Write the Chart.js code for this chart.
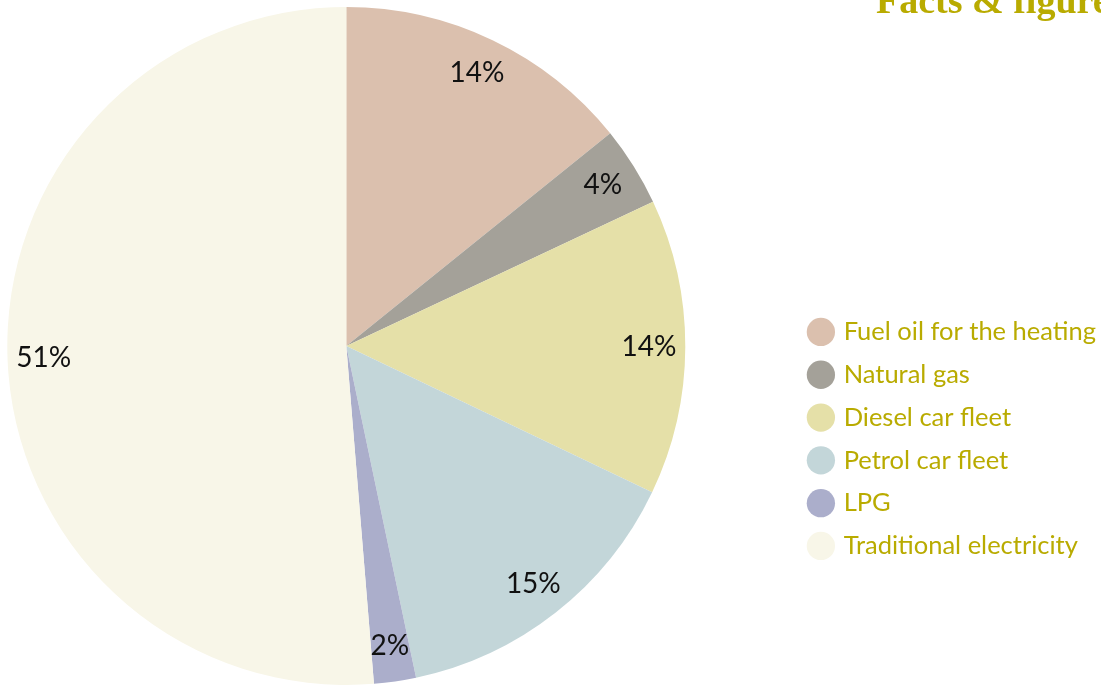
<!DOCTYPE html>
<html>
<head>
<meta charset="utf-8">
<script src="https://cdn.jsdelivr.net/npm/chart.js@4/dist/chart.umd.min.js"></script>
<style>
  html, body { margin: 0; padding: 0; background: #ffffff; overflow: hidden; }
  #wrap { position: relative; width: 1101px; height: 686px; overflow: hidden; }
  #heading { position: absolute; left: 876px; top: -19px; font-family: "Liberation Serif", serif; font-weight: 700; font-size: 38px; line-height: 1; color: #b9ab00; white-space: nowrap; }
  canvas { position: absolute; left: -101px; top: 0; }
</style>
</head>
<body>
<div id="wrap">
  <canvas id="c" width="1207" height="686"></canvas>
  <div id="heading">Facts &amp; figures</div>
</div>
<script>
const categories = ["Fuel oil for the heating", "Natural gas", "Diesel car fleet", "Petrol car fleet", "LPG", "Traditional electricity"];
const shares = [14.2, 3.8, 14.1, 14.6, 2.0, 51.3];
const shareLabels = ["14%", "4%", "14%", "15%", "2%", "51%"];
const sliceColors = ["#dbc0ae", "#a4a199", "#e5e0a8", "#c3d6d9", "#abaecb", "#f8f6e8"];

const sliceLabelPlugin = {
  id: 'sliceLabels',
  afterDatasetsDraw(chart) {
    const ctx = chart.ctx;
    const meta = chart.getDatasetMeta(0);
    ctx.save();
    ctx.font = '400 28px Lato, "Noto Sans", sans-serif';
    ctx.fillStyle = '#111111';
    ctx.textAlign = 'center';
    ctx.textBaseline = 'middle';
    meta.data.forEach((arc, i) => {
      const p = arc.getProps(['x', 'y', 'startAngle', 'endAngle', 'outerRadius'], true);
      const mid = (p.startAngle + p.endAngle) / 2;
      const r = p.outerRadius * 0.893;
      ctx.fillText(shareLabels[i], p.x + Math.cos(mid) * r, p.y + Math.sin(mid) * r);
    });
    ctx.restore();
  }
};

new Chart(document.getElementById('c'), {
  type: 'pie',
  data: {
    labels: categories,
    datasets: [{
      data: shares,
      backgroundColor: sliceColors,
      borderWidth: 0
    }]
  },
  options: {
    responsive: false,
    animation: false,
    layout: { padding: { left: 0, top: 7, bottom: 1, right: 0 } },
    plugins: {
      tooltip: { enabled: false },
      legend: {
        position: 'right',
        align: 'start',
        title: { display: true, text: '', padding: { top: 280.5, bottom: 0 }, font: { size: 12 } },
        labels: {
          usePointStyle: true,
          pointStyle: 'circle',
          boxWidth: 20,
          boxHeight: 20,
          padding: 17.3,
          color: '#b9ab00',
          font: { family: 'Lato, "Noto Sans", sans-serif', size: 25.5 }
        }
      }
    }
  },
  plugins: [sliceLabelPlugin]
});
</script>
</body>
</html>
